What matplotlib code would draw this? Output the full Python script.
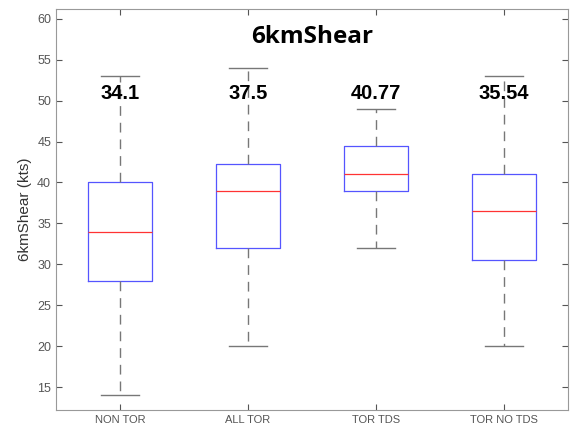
import matplotlib
matplotlib.use("Agg")
import matplotlib.pyplot as plt

categories = ['NON TOR', 'ALL TOR', 'TOR TDS', 'TOR NO TDS']
whislo = [14, 20, 32, 20]
q1 = [28, 32, 39, 30.5]
med = [34, 39, 41, 36.5]
q3 = [40, 42.2, 44.5, 41]
whishi = [53, 54, 49, 53]
mean_labels = ['34.1', '37.5', '40.77', '35.54']

plt.rcParams['font.family'] = ['Liberation Sans', 'DejaVu Sans']

stats = []
for i in range(len(categories)):
    stats.append(dict(label=categories[i], whislo=whislo[i], q1=q1[i], med=med[i],
                      q3=q3[i], whishi=whishi[i], fliers=[]))

fig = plt.figure(figsize=(5.73, 4.34), dpi=100)
ax = fig.add_axes([56/573, 24/434, 512/573, 401/434])

ax.bxp(stats, positions=[1, 2, 3, 4], widths=0.5, showfliers=False,
       boxprops=dict(color='#5555ff', linewidth=0.9),
       medianprops=dict(color='#ff3333', linewidth=0.9),
       whiskerprops=dict(color='#777777', linestyle=(0, (7, 5)), linewidth=1.0),
       capprops=dict(color='#777777', linewidth=1.0), capwidths=0.3)

# mean values written above each box
for i, t in enumerate(mean_labels):
    ax.text(i + 1, 50.9, t, ha='center', va='center', fontsize=14.5, fontweight='bold', color='black')

ax.text(2.5, 57.8, '6kmShear', ha='center', va='center', fontsize=17.5, fontweight='bold',
        family=['Open Sans', 'DejaVu Sans'], color='black')

ax.set_xlim(0.5, 4.5)
ax.set_ylim(12.2, 61.2)
ax.set_yticks(range(15, 61, 5))
ax.set_xticks([1, 2, 3, 4])
ax.set_xticklabels(categories)
ax.tick_params(direction='in', colors='#555555', labelsize=9, top=True, right=True, length=4)
ax.tick_params(axis='x', labelsize=8)
for s in ax.spines.values():
    s.set_color('#999999')
ax.set_ylabel('6kmShear (kts)', fontsize=11, color='#333333')

fig.savefig('out.png', dpi=100)
